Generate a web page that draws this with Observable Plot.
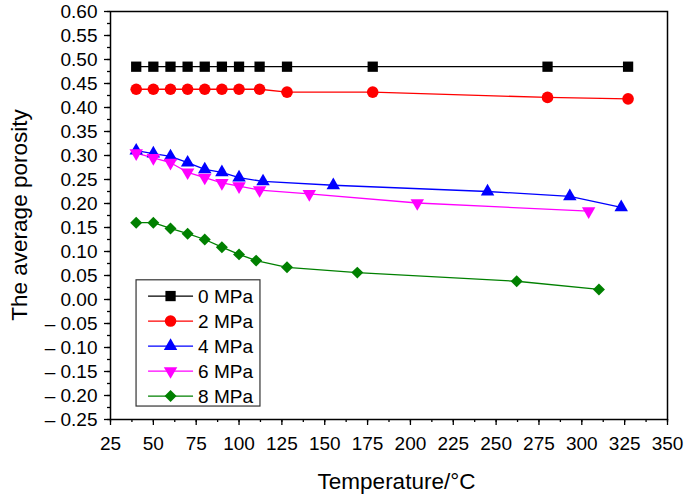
<!DOCTYPE html>
<html><head><meta charset="utf-8">
<script src="https://cdn.jsdelivr.net/npm/d3@7"></script>
<script src="https://cdn.jsdelivr.net/npm/@observablehq/plot@0.6"></script>
<style>
body{margin:0;background:#fff;}
#chart svg{font-family:"Liberation Sans",Arial,sans-serif;}
</style>
</head><body><div id="chart"></div>
<script>
const seriesNames = ["0 MPa","2 MPa","4 MPa","6 MPa","8 MPa"];
const seriesColors = ["#000000","#ff0000","#0000ff","#ff00ff","#008000"];
const xTitle = "Temperature/°C";
const yTitle = "The average porosity";

const temp0 = [40,50,60,70,80,90,100,112,128,178,280,327];
const poro0 = [0.485,0.485,0.485,0.485,0.485,0.485,0.485,0.485,0.485,0.485,0.485,0.485];
const temp2 = [40,50,60,70,80,90,100,112,128,178,280,327];
const poro2 = [0.438,0.438,0.438,0.438,0.438,0.438,0.438,0.438,0.432,0.432,0.421,0.418];
const temp4 = [40,50,60,70,80,90,100,114,155,245,293,323];
const poro4 = [0.310,0.304,0.298,0.285,0.271,0.265,0.254,0.246,0.238,0.225,0.215,0.192];
const temp6 = [40,50,60,70,80,90,100,112,141,204,304];
const poro6 = [0.305,0.295,0.285,0.265,0.254,0.243,0.236,0.228,0.220,0.201,0.184];
const temp8 = [40,50,60,70,80,90,100,110,128,169,262,310];
const poro8 = [0.160,0.160,0.148,0.137,0.125,0.109,0.094,0.081,0.067,0.056,0.038,0.021];

const xTickValues = [25,50,75,100,125,150,175,200,225,250,275,300,325,350];
const yTickValues = [-0.25,-0.20,-0.15,-0.10,-0.05,0,0.05,0.10,0.15,0.20,0.25,0.30,0.35,0.40,0.45,0.50,0.55,0.60];

const xMinor = d3.range(0, 27).map(i => 25 + i * 12.5);
const yMinor = d3.range(0, 35).map(i => Math.round((-0.25 + i * 0.025) * 1000) / 1000);

const triangleDown = {
  draw(context, size) {
    const y = -Math.sqrt(size / (Math.sqrt(3) * 3));
    context.moveTo(0, -y * 2);
    context.lineTo(-Math.sqrt(3) * y, y);
    context.lineTo(Math.sqrt(3) * y, y);
    context.closePath();
  }
};
const seriesSymbols = ["square","circle","triangle",triangleDown,"diamond2"];
const seriesR = [5.8,5.8,5.0,5.0,5.4];

const temps = [temp0,temp2,temp4,temp6,temp8];
const poros = [poro0,poro2,poro4,poro6,poro8];
const tables = temps.map((ts, k) => ts.map((t, i) => ({T: t, p: poros[k][i], s: seriesNames[k]})));

const fmt = v => {
  const s = d3.format(".2f")(Math.abs(v));
  return v < -1e-9 ? "\u2013 " + s : s;
};

const marks = [
  Plot.axisY(yMinor, {tickSize: 3, text: null, label: null, strokeWidth: 1.3}),
  Plot.axisY(yTickValues, {tickSize: 6, tickPadding: 7, tickFormat: fmt, fontSize: 19, label: null, strokeWidth: 1.3}),
  Plot.axisX(xMinor, {tickSize: 3, text: null, label: null, strokeWidth: 1.3}),
  Plot.axisX(xTickValues, {tickSize: 6, tickPadding: 11, fontSize: 19, label: null, strokeWidth: 1.3}),
  Plot.frame({stroke: "black", strokeWidth: 1.5})
];
tables.forEach((tab, k) => {
  marks.push(Plot.line(tab, {x: "T", y: "p", stroke: seriesColors[k], strokeWidth: 1.3}));
});
tables.forEach((tab, k) => {
  marks.push(Plot.dot(tab, {x: "T", y: "p", fill: seriesColors[k], stroke: "none", r: seriesR[k], symbol: seriesSymbols[k]}));
});

const chart = Plot.plot({
  width: 685,
  height: 494,
  marginLeft: 110,
  marginRight: 18,
  marginTop: 11,
  marginBottom: 75,
  x: {domain: [25, 350]},
  y: {domain: [-0.25, 0.60]},
  style: {fontSize: "19px", fontFamily: "'Liberation Sans', Arial, sans-serif", color: "black", background: "white"},
  marks
});
document.getElementById("chart").appendChild(chart);

const svg = d3.select(chart);
// tick labels: enforce size on every text Plot produced (only tick labels exist)
svg.selectAll("g").filter(function() { return this.querySelector(":scope > text"); })
  .attr("font-size", null).style("font-size", "19px");
svg.selectAll("text").attr("font-size", null).style("font-size", "19px").attr("fill", "black");

const sx = chart.scale("x"), sy = chart.scale("y");
const [xr0, xr1] = sx.range, [yr0, yr1] = sy.range;

// Axis titles
svg.append("text").attr("x", (xr0 + xr1) / 2 + 8).attr("y", yr0 + 70)
  .attr("text-anchor", "middle").style("font-size", "22.5px").attr("fill", "black").text(xTitle);
svg.append("text").attr("transform", `translate(${xr0 - 83},${(yr0 + yr1) / 2}) rotate(-90)`)
  .attr("text-anchor", "middle").style("font-size", "22.5px").attr("fill", "black").text(yTitle);

// Legend, positioned with the chart's scales
const lx0 = sx.apply(40.2), lx1 = sx.apply(112.5);
const ly0 = sy.apply(0.04), ly1 = sy.apply(-0.223);
const lg = svg.append("g").attr("aria-label", "legend");
lg.append("rect").attr("x", lx0).attr("y", ly0).attr("width", lx1 - lx0).attr("height", ly1 - ly0)
  .attr("fill", "white").attr("stroke", "#333").attr("stroke-width", 1.2);
const rowH = (ly1 - ly0) / 5.05;
const symbolTypes = {square: d3.symbolSquare, circle: d3.symbolCircle, triangle: d3.symbolTriangle, diamond2: d3.symbolDiamond2};
seriesNames.forEach((name, k) => {
  const cy = ly0 + rowH * (k + 0.65);
  const xa = lx0 + 12, xb = lx0 + 57, xm = (xa + xb) / 2;
  lg.append("line").attr("x1", xa).attr("x2", xb).attr("y1", cy).attr("y2", cy)
    .attr("stroke", seriesColors[k]).attr("stroke-width", 1.3);
  const sym = typeof seriesSymbols[k] === "string" ? symbolTypes[seriesSymbols[k]] : seriesSymbols[k];
  lg.append("path").attr("d", d3.symbol(sym, Math.PI * seriesR[k] * seriesR[k])())
    .attr("transform", `translate(${xm},${cy})`).attr("fill", seriesColors[k]);
  lg.append("text").attr("x", xb + 5).attr("y", cy).attr("dy", "0.35em")
    .attr("text-anchor", "start").style("font-size", "19px").attr("fill", "black").text(name);
});
</script>
</body></html>
